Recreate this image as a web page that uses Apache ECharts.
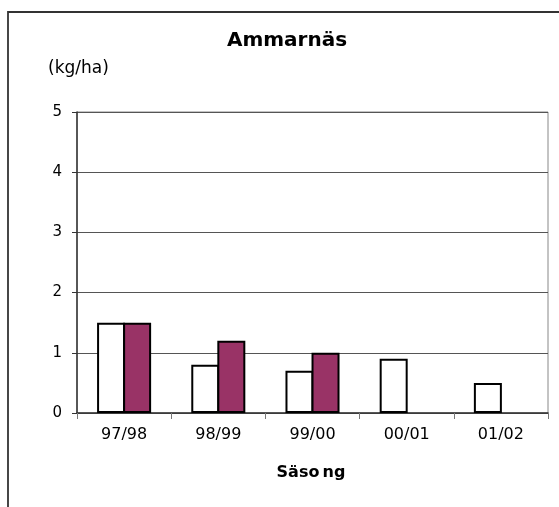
<!DOCTYPE html>
<html>
<head>
<meta charset="utf-8">
<script src="https://cdn.jsdelivr.net/npm/echarts@6/dist/echarts.min.js"></script>
<style>html,body{margin:0;padding:0;background:#fff}#c{width:559px;height:507px}</style>
</head>
<body>
<div id="c"></div>
<script>
var categories = ['97/98', '98/99', '99/00', '00/01', '01/02'];
var seriesA = [1.5, 0.8, 0.7, 0.9, 0.5];
var seriesB = [1.5, 1.2, 1.0, null, null];
var yTicks = [0, 1, 2, 3, 4, 5];

var chart = echarts.init(document.getElementById('c'), null, {renderer: 'canvas'});
var font = 'DejaVu Sans';
chart.setOption({
  animation: false,
  backgroundColor: '#fff',
  grid: {left: 77, right: 11, top: 112, bottom: 94, show: true, borderColor: '#888', borderWidth: 1, backgroundColor: 'transparent'},
  xAxis: {
    type: 'category',
    data: categories,
    axisLine: {lineStyle: {color: '#333', width: 1.5}},
    axisTick: {show: true, length: 6, lineStyle: {color: '#777'}},
    axisLabel: {color: '#000', fontFamily: font, fontSize: 16, margin: 14}
  },
  yAxis: {
    type: 'value',
    min: yTicks[0],
    max: yTicks[yTicks.length - 1],
    interval: 1,
    axisLine: {show: true, lineStyle: {color: '#333', width: 1.5}},
    axisTick: {show: true, length: 5, lineStyle: {color: '#333'}},
    axisLabel: {color: '#000', fontFamily: font, fontSize: 15, margin: 15},
    splitLine: {lineStyle: {color: '#555', width: 1}}
  },
  series: [
    {type: 'bar', data: seriesA, barWidth: 28, barGap: '-7%', z: 2,
     itemStyle: {color: '#fff', borderColor: '#000', borderWidth: 2}},
    {type: 'bar', data: seriesB, barWidth: 28, barGap: '-7%', z: 3,
     itemStyle: {color: '#993366', borderColor: '#000', borderWidth: 2}}
  ],
  graphic: [
    {type: 'polyline', shape: {points: [[8, 520], [8, 12], [570, 12]]}, style: {stroke: '#333', lineWidth: 1.8, fill: null}},
    {type: 'text', x: 287, y: 41, style: {text: 'Ammarnäs', font: 'bold 20px "DejaVu Sans"', fill: '#000', textAlign: 'center', textVerticalAlign: 'middle'}},
    {type: 'text', x: 48, y: 69, style: {text: '(kg/ha)', font: '17px "DejaVu Sans"', fill: '#000', textAlign: 'left', textVerticalAlign: 'middle'}},
    {type: 'text', x: 311, y: 473, style: {text: 'Säso\u2009ng', font: 'bold 16px "DejaVu Sans"', fill: '#000', textAlign: 'center', textVerticalAlign: 'middle'}}
  ]
});
</script>
</body>
</html>
